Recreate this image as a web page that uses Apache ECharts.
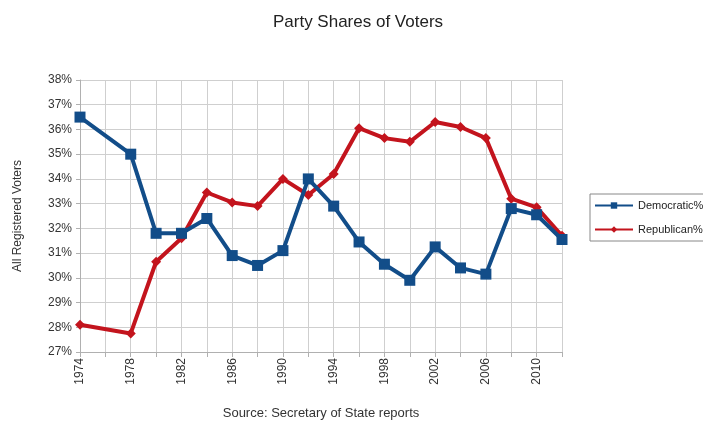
<!DOCTYPE html>
<html>
<head>
<meta charset="utf-8">
<script src="https://cdn.jsdelivr.net/npm/echarts@6/dist/echarts.min.js"></script>
<style>html,body{margin:0;padding:0;background:#fff;}#c{width:703px;height:426px;}</style>
</head>
<body>
<div id="c"></div>
<script>
const years = [1974, 1978, 1980, 1982, 1984, 1986, 1988, 1990, 1992, 1994, 1996, 1998, 2000, 2002, 2004, 2006, 2008, 2010, 2012];
const democratic = [36.5, 35.0, 31.8, 31.8, 32.4, 30.9, 30.5, 31.1, 34.0, 32.9, 31.45, 30.55, 29.9, 31.25, 30.4, 30.15, 32.8, 32.55, 31.55];
const republican = [28.1, 27.75, 30.65, 31.6, 33.45, 33.05, 32.9, 34.0, 33.35, 34.2, 36.05, 35.65, 35.5, 36.3, 36.1, 35.65, 33.2, 32.85, 31.7];
const seriesNames = ['Democratic%', 'Republican%'];
const yTicks = {min: 27, max: 38, step: 1};
const xTicks = {min: 1974, max: 2012, step: 2, labelStep: 4};

const chart = echarts.init(document.getElementById('c'));
const ff = 'Liberation Sans, Arial, sans-serif';
const blue = '#124d89';
const red = '#c3141d';
chart.setOption({
  animation: false,
  title: {text: 'Party Shares of Voters', left: 353, textAlign: 'center', top: 9,
    textStyle: {fontFamily: ff, fontSize: 17, fontWeight: 'normal', color: '#222'}},
  legend: {
    orient: 'vertical', left: 590, top: 194,
    itemWidth: 38, itemHeight: 8, itemGap: 13,
    borderColor: '#888', borderWidth: 1, padding: [6, 4, 6, 4],
    textStyle: {fontFamily: ff, fontSize: 11, color: '#222'},
    data: seriesNames
  },
  grid: {left: 80, right: 141, top: 80, bottom: 74},
  xAxis: {
    type: 'value', min: xTicks.min, max: xTicks.max, interval: xTicks.step,
    name: 'Source: Secretary of State reports', nameLocation: 'middle', nameGap: 55,
    nameTextStyle: {fontFamily: ff, fontSize: 13, color: '#333'},
    axisLine: {lineStyle: {color: '#b0b0b0'}},
    axisTick: {show: true, length: 5, lineStyle: {color: '#b0b0b0'}},
    splitLine: {show: true, lineStyle: {color: '#cfcfcf', width: 1}},
    axisLabel: {rotate: 90, fontFamily: ff, fontSize: 12, color: '#333', margin: 6,
      formatter: v => ((v - xTicks.min) % xTicks.labelStep === 0 && v < xTicks.max) ? String(v) : ''}
  },
  yAxis: {
    type: 'value', min: yTicks.min, max: yTicks.max, interval: yTicks.step,
    name: 'All Registered Voters', nameLocation: 'middle', nameGap: 56,
    nameTextStyle: {fontFamily: ff, fontSize: 12, color: '#333'},
    axisLine: {show: true, lineStyle: {color: '#b0b0b0'}},
    axisTick: {show: true, length: 4, lineStyle: {color: '#b0b0b0'}},
    splitLine: {show: true, lineStyle: {color: '#cfcfcf', width: 1}},
    axisLabel: {fontFamily: ff, fontSize: 12, color: '#333', margin: 8, formatter: '{value}%'}
  },
  series: [
    {name: seriesNames[0], type: 'line', data: years.map((y, i) => [y, democratic[i]]),
      color: blue, lineStyle: {width: 4, color: blue}, symbol: 'rect', symbolSize: 11,
      itemStyle: {color: blue}, z: 3},
    {name: seriesNames[1], type: 'line', data: years.map((y, i) => [y, republican[i]]),
      color: red, lineStyle: {width: 4, color: red}, symbol: 'diamond', symbolSize: 10,
      itemStyle: {color: red}, z: 2}
  ]
});
</script>
</body>
</html>
